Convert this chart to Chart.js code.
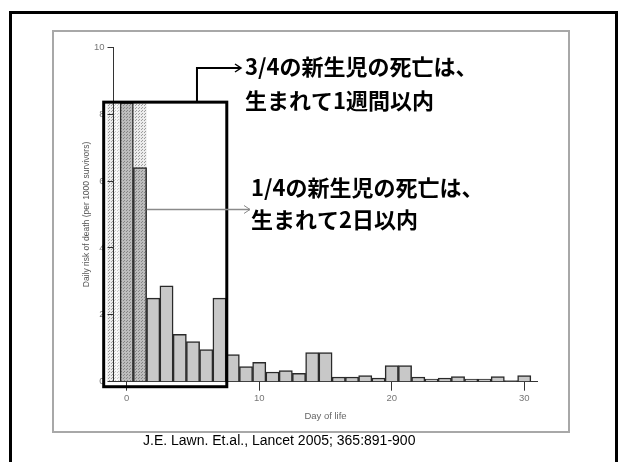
<!DOCTYPE html>
<html>
<head>
<meta charset="utf-8">
<script src="https://cdn.jsdelivr.net/npm/chart.js@4.4.0/dist/chart.umd.min.js"></script>
<style>
body { margin:0; background:#fff; }
#wrap { position:relative; width:621px; height:462px; overflow:hidden; }
#outer { position:absolute; left:9px; top:11px; width:603px; height:460px; border:3px solid #000; border-bottom:none; }
#inner { position:absolute; left:52px; top:30px; width:514px; height:399px; border:2px solid #a8a8a8; }
#cite { position:absolute; left:143px; top:432px; font:14px 'Liberation Sans', Arial, sans-serif; line-height:16px; color:#000; }
canvas { position:absolute; left:0; top:0; }
</style>
</head>
<body>
<div id="wrap">
  <div id="outer"></div>
  <div id="inner"></div>
  <canvas id="c" width="621" height="462"></canvas>
  <div id="cite">J.E. Lawn. Et.al., Lancet 2005; 365:891-900</div>
</div>
<script>
// day of life and daily risk of death (per 1000 survivors), day 0 is cut off at the box top
var days = [0,1,2,3,4,5,6,7,8,9,10,11,12,13,14,15,16,17,18,19,20,21,22,23,24,25,26,27,28,29,30];
var risk = [8.35,6.4,2.5,2.87,1.42,1.2,0.96,2.5,0.81,0.45,0.58,0.29,0.33,0.25,0.87,0.87,0.14,0.14,0.18,0.11,0.48,0.48,0.14,0.08,0.11,0.15,0.08,0.08,0.15,0.03,0.18];
var xTicks = [0,10,20,30];
var yTicks = [0,2,4,6,8,10];

// first week box and the dotted first-days region, in data units
var weekBox = [-1.74, 7.55, -0.15, 8.36];
var shadeFrom = [-1.5, -1.0, 0.5];
var shadeTo = [-1.0, -0.5, 1.5];

var note1 = ['3/4の新生児の死亡は、', '生まれて1週間以内'];
var note2 = ['1/4の新生児の死亡は、', '生まれて2日以内'];

var ctx = document.getElementById('c').getContext('2d');

function dots(base, dot) {
    var c = document.createElement('canvas');
    c.width = 3; c.height = 3;
    var g = c.getContext('2d');
    g.fillStyle = base; g.fillRect(0, 0, 3, 3);
    g.fillStyle = dot; g.fillRect(0, 0, 1, 1); g.fillRect(1, 2, 1, 1);
    return ctx.createPattern(c, 'repeat');
}
var lightDots = dots('#ececec', '#9c9c9c');
var paleDots = dots('#f8f8f8', '#c4c4c4');
var darkDots = dots('#bdbdbd', '#858585');
var shadeFill = [lightDots, paleDots, lightDots];

function arrowHead(c, x, y) {
    c.beginPath();
    c.moveTo(x - 6, y - 4);
    c.lineTo(x, y);
    c.lineTo(x - 6, y + 4);
    c.stroke();
}

var extras = {
    id: 'extras',
    beforeDraw: function(chart) {
        var c = chart.ctx, x = chart.scales.x, y = chart.scales.y;
        var top = y.getPixelForValue(weekBox[3]), bot = y.getPixelForValue(0);
        c.save();
        for (var i = 0; i < shadeFrom.length; i++) {
            var l = x.getPixelForValue(shadeFrom[i]), r = x.getPixelForValue(shadeTo[i]);
            c.fillStyle = shadeFill[i];
            c.fillRect(l, top, r - l, bot - top);
        }
        c.restore();
    },
    afterDatasetsDraw: function(chart) {
        var c = chart.ctx, x = chart.scales.x, y = chart.scales.y;
        var l = x.getPixelForValue(weekBox[0]), r = x.getPixelForValue(weekBox[1]);
        var b = y.getPixelForValue(weekBox[2]), t = y.getPixelForValue(weekBox[3]);
        c.save();
        c.strokeStyle = '#000';
        c.lineWidth = 3;
        c.strokeRect(l, t, r - l, b - t);
        c.restore();
    },
    afterDraw: function(chart) {
        var c = chart.ctx, x = chart.scales.x, y = chart.scales.y;
        var t = y.getPixelForValue(weekBox[3]);
        c.save();
        // arrow from the box to the first note
        var ax = x.getPixelForValue(5.3);
        c.strokeStyle = '#000';
        c.lineWidth = 2;
        c.beginPath();
        c.moveTo(ax, t);
        c.lineTo(ax, 68);
        c.lineTo(241, 68);
        c.stroke();
        c.lineWidth = 1.5;
        arrowHead(c, 241, 68);
        // arrow from day 1 bar to the second note
        var bx = x.getPixelForValue(1.5), by = y.getPixelForValue(5.15);
        c.strokeStyle = '#8a8a8a';
        c.lineWidth = 1.5;
        c.beginPath();
        c.moveTo(bx, by);
        c.lineTo(250, by);
        c.stroke();
        c.lineWidth = 1;
        arrowHead(c, 250, by);

        c.fillStyle = '#000';
        c.font = 'bold 22px "Noto Sans CJK JP", sans-serif';
        c.textBaseline = 'middle';
        c.textAlign = 'left';
        c.fillText(note1[0], 245, 67);
        c.fillText(note1[1], 245, 101);
        c.fillText(note2[0], 251, 188);
        c.fillText(note2[1], 251, 220);
        c.restore();
    }
};

var tickFont = { family: "'Liberation Sans', sans-serif", size: 9.5 };
var titleFont = { family: "'Liberation Sans', sans-serif", size: 8.5 };

new Chart(ctx, {
    type: 'bar',
    data: {
        datasets: [{
            data: days.map(function(d, i) { return { x: d, y: risk[i] }; }),
            backgroundColor: days.map(function(d) { return d < 2 ? darkDots : '#c8c8c8'; }),
            borderColor: '#2a2a2a',
            borderWidth: 1.5,
            barPercentage: 1,
            categoryPercentage: 1
        }]
    },
    options: {
        responsive: false,
        animation: false,
        devicePixelRatio: 1,
        layout: { padding: { left: 77.6, top: 47.3, right: 83.5, bottom: 35.6 } },
        plugins: { legend: { display: false }, tooltip: { enabled: false } },
        scales: {
            x: {
                type: 'linear', min: -1, max: 31, offset: false,
                afterBuildTicks: function(s) { s.ticks = xTicks.map(function(v) { return { value: v }; }); },
                afterFit: function(s) { s.height = 44.7; },
                grid: { display: true, offset: false, drawOnChartArea: false, drawTicks: true, tickLength: 9, color: '#333' },
                border: { display: true, color: '#333', width: 1 },
                ticks: { color: '#777', font: tickFont, padding: 2, maxRotation: 0 },
                title: { display: true, text: 'Day of life', color: '#666', font: tickFont, padding: { top: 4, bottom: 4 } }
            },
            y: {
                min: 0, max: 10,
                afterBuildTicks: function(s) { s.ticks = yTicks.map(function(v) { return { value: v }; }); },
                afterFit: function(s) { s.width = 35.9; },
                grid: { display: true, drawOnChartArea: false, drawTicks: true, tickLength: 6, color: '#333' },
                border: { display: true, color: '#333', width: 1 },
                ticks: { color: '#777', font: tickFont, padding: 3 },
                title: { display: true, text: 'Daily risk of death (per 1000 survivors)', color: '#555', font: titleFont, padding: { top: 4, bottom: 4 } }
            }
        }
    },
    plugins: [extras]
});
</script>
</body>
</html>
